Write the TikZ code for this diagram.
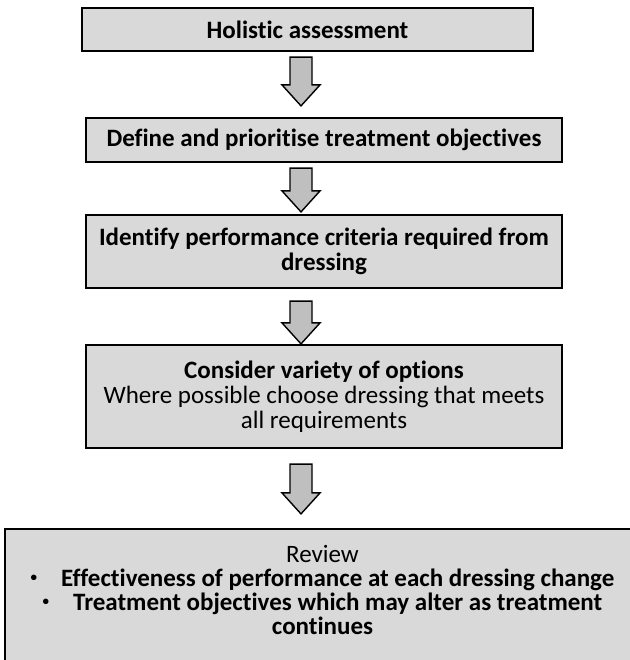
\documentclass[tikz,border=0pt]{standalone}
\usepackage{fontspec}
\setmainfont{Carlito}[Ligatures=NoCommon]
\usetikzlibrary{calc}

\definecolor{boxgray}{HTML}{D9D9D9}
\definecolor{arrowgray}{HTML}{BFBFBF}

\tikzset{
  stepbox/.style={draw=black, line width=2.2pt, fill=boxgray, align=center,
    inner sep=0pt, font=\fontsize{25}{25}\selectfont},
  fatarrow/.style={draw=black, line width=1.4pt, fill=arrowgray, line join=miter},
}

% block arrow: from, to, gap under #1, gap over #2
\newcommand{\flowarrow}[4]{%
  \path[fatarrow] let \p1=(#1.south), \p2=(#2.north) in
    (290,\y1-#3) -- (312,\y1-#3) -- (312,\y2+21+#4) -- (320,\y2+21+#4)
    -- (301,\y2+#4) -- (282,\y2+21+#4) -- (290,\y2+21+#4) -- cycle;}
\newcommand{\smallbullet}{\raisebox{5pt}{\fontsize{13}{13}\selectfont\textbullet}}

\begin{document}
\begin{tikzpicture}[x=1pt,y=-1pt]
  \useasboundingbox (0,0) rectangle (629,660);
  \node[stepbox, minimum width=451, minimum height=43] (assess) at (307.5,29.5)
    {\bfseries Holistic assessment};
  \node[stepbox, minimum width=476, minimum height=44] (objectives) at (324,140)
    {\bfseries Define and prioritise treatment objectives};
  \node[stepbox, minimum width=476, minimum height=73] (criteria) at (324,251.5)
    {\bfseries Identify performance criteria required from\\\bfseries dressing};
  \node[stepbox, minimum width=476, minimum height=103] (options) at (324,396.5)
    {\bfseries Consider variety of options\\Where possible choose dressing that meets\\all requirements};
  \node[stepbox, minimum width=635, minimum height=141] (review) at (322.5,599.5) {};
  \node[stepbox, draw=none, fill=none, font=\fontsize{25}{24}\selectfont] (reviewtext)
    at ($(review.center)+(0,-10)$)
    {Review\\
     \bfseries\smallbullet\hspace{24pt}Effectiveness of performance at each dressing change\\
     \bfseries\smallbullet\hspace{24pt}Treatment objectives which may alter as treatment\\
     \bfseries continues};

  \flowarrow{assess}{objectives}{5}{11}
  \flowarrow{objectives}{criteria}{5}{2}
  \flowarrow{criteria}{options}{12}{0}
  \flowarrow{options}{review}{15}{14}
\end{tikzpicture}
\end{document}
